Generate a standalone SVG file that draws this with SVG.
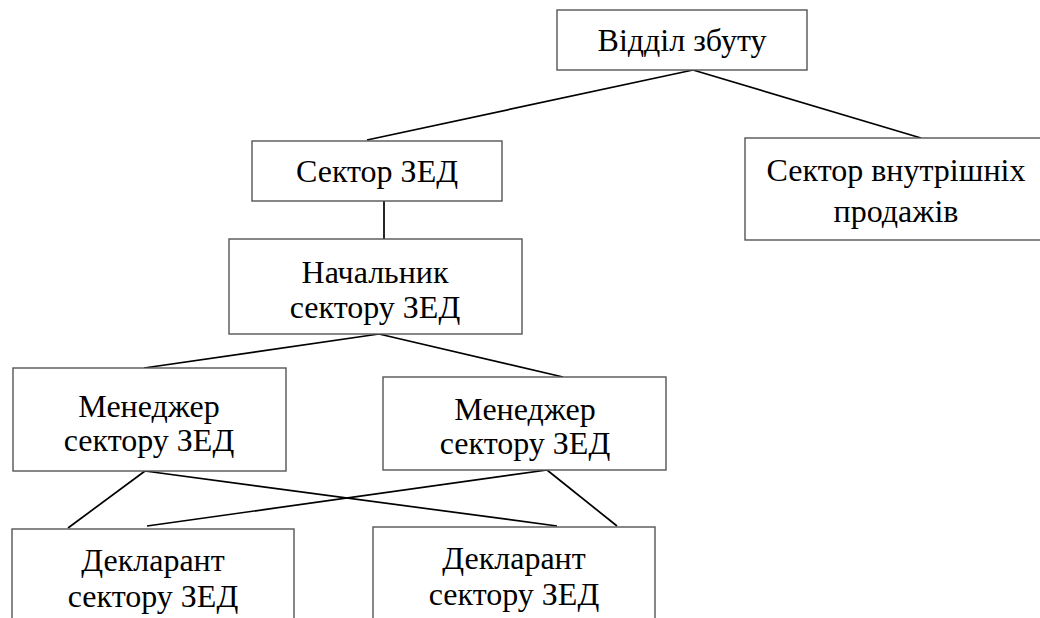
<svg xmlns="http://www.w3.org/2000/svg" width="1040" height="618" viewBox="0 0 1040 618">
<style>
.box{fill:#fff;stroke:#555;stroke-width:1.4}
.t{font-family:'Liberation Serif','Times New Roman',serif;font-size:32px;fill:#000;text-anchor:middle}
.c{stroke:#000;stroke-width:1.7;fill:none}
</style>
<rect width="1040" height="618" fill="#fff"/>
<g id="connectors">
<line class="c" x1="693" y1="70" x2="367" y2="140"/>
<line class="c" x1="693" y1="70" x2="921" y2="138"/>
<line class="c" x1="384" y1="201" x2="384" y2="239"/>
<line class="c" x1="379" y1="334" x2="144" y2="368"/>
<line class="c" x1="379" y1="334" x2="563" y2="377"/>
<line class="c" x1="145" y1="471" x2="68" y2="528"/>
<line class="c" x1="145" y1="471" x2="557" y2="526"/>
<line class="c" x1="547" y1="470" x2="147" y2="526"/>
<line class="c" x1="547" y1="470" x2="617" y2="526"/>
</g>
<g id="n-viddil">
<rect class="box" x="557" y="10" width="250" height="60"/>
<text class="t" x="682" y="51">Відділ збуту</text>
</g>
<g id="n-zed">
<rect class="box" x="252" y="141" width="250" height="60"/>
<text class="t" x="377" y="182">Сектор ЗЕД</text>
</g>
<g id="n-vnutr">
<rect class="box" x="745" y="138" width="300" height="102"/>
<text class="t" x="896" y="181">Сектор внутрішніх</text>
<text class="t" x="896" y="222">продажів</text>
</g>
<g id="n-nach">
<rect class="box" x="229" y="239" width="293" height="95"/>
<text class="t" x="375" y="283">Начальник</text>
<text class="t" x="375" y="318">сектору ЗЕД</text>
</g>
<g id="n-m1">
<rect class="box" x="13" y="368" width="273" height="103"/>
<text class="t" x="149" y="417">Менеджер</text>
<text class="t" x="149" y="451">сектору ЗЕД</text>
</g>
<g id="n-m2">
<rect class="box" x="383" y="377" width="283" height="93"/>
<text class="t" x="525" y="420">Менеджер</text>
<text class="t" x="525" y="454">сектору ЗЕД</text>
</g>
<g id="n-d1">
<rect class="box" x="12" y="529" width="282" height="100"/>
<text class="t" x="153" y="571">Декларант</text>
<text class="t" x="153" y="607">сектору ЗЕД</text>
</g>
<g id="n-d2">
<rect class="box" x="373" y="527" width="282" height="100"/>
<text class="t" x="514" y="569">Декларант</text>
<text class="t" x="514" y="605">сектору ЗЕД</text>
</g>
</svg>
